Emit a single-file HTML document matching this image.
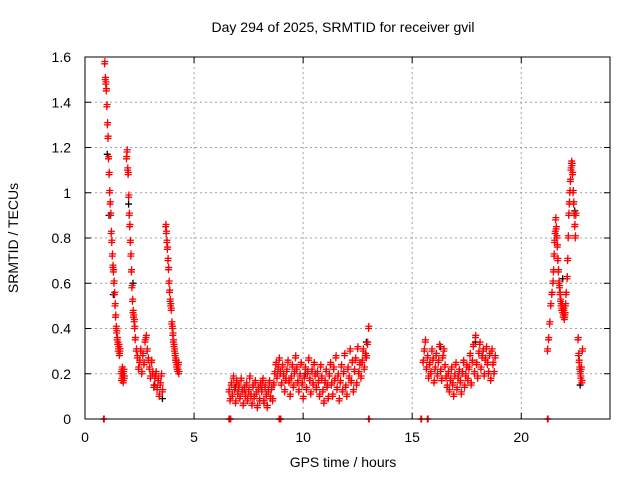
<!DOCTYPE html>
<html><head><meta charset="utf-8"><style>
body{margin:0;background:#fff}
svg text{font-family:"Liberation Sans",sans-serif;font-size:14px;fill:#000}
</style></head><body>
<svg id="chart" width="640" height="480" viewBox="0 0 640 480" xmlns="http://www.w3.org/2000/svg">
<rect width="640" height="480" fill="#fff"/>
<text x="343" y="32" text-anchor="middle">Day 294 of 2025, SRMTID for receiver gvil</text>
<text x="343" y="467" text-anchor="middle">GPS time / hours</text>
<text transform="translate(18,238) rotate(-90)" text-anchor="middle">SRMTID / TECUs</text>
<g id="grid"></g>
<g id="axes"></g>
<g id="black"></g>
<g id="red"></g>
<rect x="85" y="57" width="525" height="362" fill="none" stroke="#000" stroke-width="1"/>
</svg>
<script>
const xTicks = [0,5,10,15,20];
const yTicks = [0,0.2,0.4,0.6,0.8,1,1.2,1.4,1.6];
const yTickLabels = ["0","0.2","0.4","0.6","0.8","1","1.2","1.4","1.6"];
const segStarts = [0.9,1.65,1.9,2.35,3.7,6.6,15.5,21.2,21.45,22.1,22.6];
const segSteps = [0.025,0.025,0.025,0.05,0.025,0.05,0.05,0.05,0.025,0.025,0.025];
const segValues = [
[1.57,1.5,1.48,1.45,1.38,1.3,1.24,1.15,1.08,1.0,0.95,0.9,0.82,0.78,0.72,0.67,0.65,0.6,0.55,0.5,0.45,0.4,0.38,0.35,0.33,0.3,0.32,0.28,0.3],
[0.2,0.17,0.22,0.19,0.16,0.21,0.18],
[1.15,1.18,1.1,1.08,0.98,0.9,0.85,0.78,0.72,0.65,0.58,0.52,0.47,0.45,0.43,0.4,0.35],
[0.3,0.27,0.22,0.25,0.3,0.2,0.28,0.24,0.34,0.36,0.3,0.26,0.22,0.18,0.25,0.2,0.14,0.18,0.2,0.13,0.17,0.1,0.15,0.19,0.12],
[0.85,0.82,0.78,0.75,0.7,0.66,0.6,0.56,0.52,0.5,0.48,0.42,0.4,0.37,0.34,0.32,0.3,0.28,0.26,0.25,0.23,0.22,0.21,0.24,0.2],
[0.12,0.08,0.15,0.1,0.18,0.13,0.07,0.16,0.11,0.14,0.09,0.17,0.12,0.06,0.13,0.1,0.15,0.08,0.12,0.18,0.1,
 0.06,0.14,0.09,0.16,0.11,0.05,0.13,0.08,0.15,0.12,0.17,0.07,0.14,0.1,0.05,0.12,0.16,0.09,0.13,0.08,
 0.15,0.2,0.24,0.18,0.22,0.26,0.2,0.15,0.23,0.19,0.12,0.17,0.21,0.25,0.16,0.1,0.18,0.23,0.14,0.2,
 0.27,0.22,0.16,0.12,0.19,0.24,0.15,0.09,0.18,0.22,0.13,0.2,0.26,0.17,0.11,0.21,0.15,0.24,0.19,0.13,
 0.2,0.16,0.1,0.23,0.18,0.12,0.07,0.16,0.21,0.14,0.09,0.19,0.24,0.15,0.1,0.22,0.17,0.27,0.13,0.19,
 0.08,0.16,0.23,0.12,0.2,0.28,0.14,0.1,0.22,0.18,0.3,0.16,0.25,0.12,0.21,0.26,0.15,0.31,0.2,0.24,
 0.18,0.25,0.3,0.22,0.28,0.27,0.33,0.4],
[0.25,0.3,0.34,0.22,0.27,0.18,0.24,0.2,0.3,0.26,0.16,0.22,0.28,0.19,0.25,0.32,0.21,0.17,0.27,0.3,0.23,
 0.18,0.14,0.2,0.12,0.17,0.22,0.15,0.1,0.19,0.24,0.13,0.18,0.21,0.16,0.11,0.2,0.25,0.14,0.19,0.23,
 0.17,0.22,0.28,0.15,0.25,0.32,0.2,0.36,0.24,0.18,0.29,0.33,0.22,0.27,0.3,0.19,0.26,0.31,0.24,0.2,
 0.28,0.17,0.3,0.24,0.2,0.27],
[0.3,0.35,0.42,0.5,0.55],
[0.6,0.65,0.72,0.78,0.82,0.88,0.84,0.8,0.76,0.7,0.65,0.6,0.58,0.55,0.52,0.5,0.48,0.5,0.47,0.45,0.48,0.44,0.46,0.5,0.55],
[0.62,0.7,0.8,0.9,0.95,1.0,1.05,1.1,1.13,1.12,1.08,1.0,0.95,0.9,0.85,0.8,0.9],
[0.35,0.28,0.25,0.22,0.2,0.18,0.22,0.16,0.3]
];
const zeroTimes = [0.85,6.6,6.65,8.9,8.95,13.0,15.4,15.7,21.2];
const blackTimes = [1.02,1.1,1.3,2.0,2.2,3.2,3.55,6.9,8.2,10.1,12.9,16.3,17.9,21.9,22.45,22.7];
const blackValues = [1.17,0.9,0.55,0.95,0.6,0.15,0.09,0.14,0.08,0.2,0.34,0.32,0.34,0.62,0.92,0.15];

const X0=85,X1=608.5,Y0=419,Y1=57;
const xs=t=>X0+(t/24)*(X1-X0);
const ys=v=>Y0-(v/1.6)*(Y0-Y1);
const NS="http://www.w3.org/2000/svg";
const grid=document.getElementById('grid'),axes=document.getElementById('axes');
function mk(tag,attrs,parent){const e=document.createElementNS(NS,tag);for(const k in attrs)e.setAttribute(k,attrs[k]);parent.appendChild(e);return e;}
xTicks.forEach(t=>{
  const x=xs(t);
  if(t>0){const g=mk('line',{x1:x,x2:x,y1:Y1,y2:Y0,stroke:'#a0a0a0','stroke-dasharray':'2,3'},grid);
  
  }
  mk('line',{x1:x,x2:x,y1:Y0,y2:Y0-6,stroke:'#000'},axes);
  mk('line',{x1:x,x2:x,y1:Y1,y2:Y1+6,stroke:'#000'},axes);
  const l=mk('text',{x:x,y:442,'text-anchor':'middle'},axes);l.textContent=t;
  
  
});
yTicks.forEach((v,i)=>{
  const y=ys(v);
  if(v>0&&v<1.6){const g=mk('line',{x1:X0,x2:610,y1:y,y2:y,stroke:'#a0a0a0','stroke-dasharray':'2,3'},grid);
  
  }
  mk('line',{x1:X0,x2:X0+6,y1:y,y2:y,stroke:'#000'},axes);
  mk('line',{x1:604,x2:610,y1:y,y2:y,stroke:'#000'},axes);
  const l=mk('text',{x:71,y:y+5,'text-anchor':'end'},axes);l.textContent=yTickLabels[i];
  
  
});
function cross(t,v,color,parent){
  const x=xs(t),y=ys(v);
  const p=mk('path',{d:`M${x-3.5},${y}H${x+3.5}M${x},${y-3.5}V${y+3.5}`,stroke:color,'stroke-width':1.3,fill:'none'},parent);
  
  
}
const black=document.getElementById('black'),red=document.getElementById('red');
blackTimes.forEach((t,i)=>cross(t,blackValues[i],'#000',black));
segValues.forEach((vals,s)=>vals.forEach((v,i)=>{
  cross(segStarts[s]+i*segSteps[s],v,'#f00',red);
  cross(segStarts[s]+i*segSteps[s]+0.012,v+0.01,'#f00',red);
}));
zeroTimes.forEach(t=>{cross(t,0,'#f00',red);cross(t+0.03,0,'#f00',red);});
</script>
</body></html>
